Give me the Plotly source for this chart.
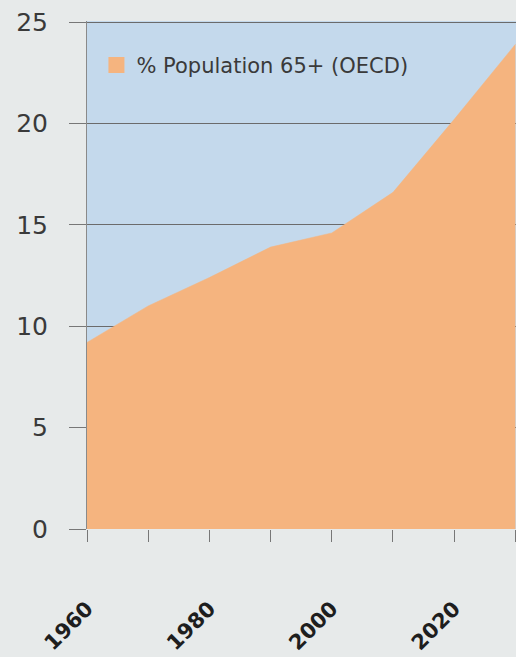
import plotly.graph_objects as go

# Share of population aged 65 and over, OECD
years = [1960, 1970, 1980, 1990, 2000, 2010, 2020, 2030]
pct_65_plus = [9.2, 11.0, 12.4, 13.9, 14.6, 16.6, 20.2, 23.9]

series_name = "% Population 65+ (OECD)"
x_tick_vals = [1960, 1970, 1980, 1990, 2000, 2010, 2020, 2030]
x_tick_text = ["1960", "", "1980", "", "2000", "", "2020", ""]
y_tick_vals = [0, 5, 10, 15, 20, 25]

PAGE_BG = "#e7eaea"
PLOT_BG = "#c4d9ec"
AREA = "#f5b47f"
AXIS_GREY = "#777777"
GRID = "#6b6b6b"

fig = go.Figure()

fig.add_trace(go.Scatter(
    x=years, y=pct_65_plus,
    mode="lines", fill="tozeroy",
    fillcolor=AREA, line=dict(color=AREA, width=0.5),
    showlegend=False, hoverinfo="skip",
))

# legend swatch
fig.add_trace(go.Scatter(
    x=[None], y=[None], mode="markers", name=series_name,
    marker=dict(symbol="square", size=16, color=AREA, line=dict(width=0)),
    showlegend=True,
))

fig.update_layout(
    width=516, height=657,
    margin=dict(l=87, r=0, t=21, b=128),
    paper_bgcolor=PAGE_BG, plot_bgcolor=PLOT_BG,
    font=dict(family="DejaVu Sans", color="#333333"),
    legend=dict(
        x=0.022, y=0.953, xanchor="left", yanchor="top",
        bgcolor="rgba(0,0,0,0)", borderwidth=0,
        font=dict(family="DejaVu Sans", size=21, color="#3a3a3a"),
        itemsizing="trace",
    ),
    xaxis=dict(
        range=[1960, 2030.1], tickmode="array",
        tickvals=x_tick_vals, ticktext=x_tick_text,
        ticks="outside", ticklen=12, tickwidth=1, tickcolor=AXIS_GREY,
        tickangle=-45, ticklabelstandoff=46,
        tickfont=dict(family="DejaVu Sans", size=21, color="#1e1e1e", weight="bold"),
        showgrid=False, zeroline=False, showline=False,
    ),
    yaxis=dict(
        range=[0, 25.05], tickmode="array", tickvals=y_tick_vals,
        ticks="outside", ticklen=17, tickwidth=1, tickcolor=AXIS_GREY,
        ticklabelstandoff=16,
        tickfont=dict(family="DejaVu Sans", size=25, color="#3a3a3a"),
        showgrid=True, gridcolor=GRID, gridwidth=1,
        zeroline=False, showline=True, linecolor="#8a8a8a", linewidth=1,
    ),
)

fig.write_html("out.html")
